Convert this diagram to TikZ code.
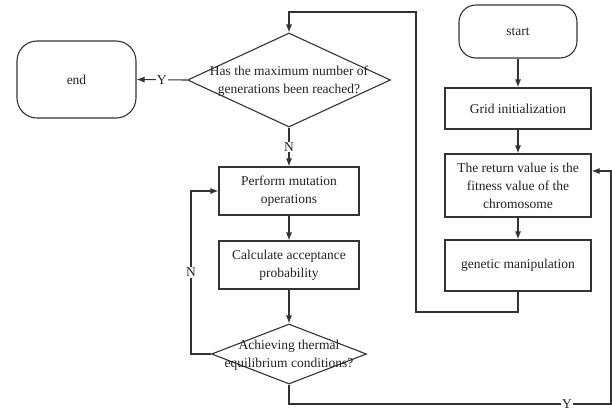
\documentclass[tikz,border=0pt]{standalone}
\usepackage{fontspec}
\setmainfont{Liberation Serif}
\usetikzlibrary{shapes.geometric,arrows.meta}
\newcommand\figfont{\fontsize{13.5}{18}\selectfont}
\definecolor{lc}{HTML}{333333}
\definecolor{tc}{HTML}{222222}
\begin{document}
\begin{tikzpicture}[x=1pt,y=-1pt,
  line/.style={draw=lc, line width=1.1pt},
  arr/.style={line, -{Latex[length=8pt,width=6pt]}},
  box/.style={draw=lc, line width=1.1pt, rectangle, inner sep=1pt, align=center, font=\figfont, text=tc},
  term/.style={draw=lc, line width=1.1pt, rectangle, inner sep=0pt, font=\figfont, text=tc},
  dia/.style={draw=lc, line width=1.1pt, diamond, inner sep=0pt},
  dtext/.style={align=center, font=\figfont, text=tc, inner sep=0pt},
  lab/.style={fill=white, inner sep=1pt, font=\figfont, text=tc},
]
\useasboundingbox (0,0) rectangle (612,410);

% terminals
\node[term, rounded corners=20pt, minimum width=119pt, minimum height=77pt] (end) at (76.5,79.5) {end};
\node[term, rounded corners=17pt, minimum width=118pt, minimum height=53pt] (start) at (518,31.5) {start};

% right column
\node[box, minimum width=146pt, minimum height=41pt] (grid) at (518,108.5) {Grid initialization};
\node[box, minimum width=146pt, minimum height=63pt] (ret) at (518,185.5) {The return value is the\\fitness value of the\\chromosome};
\node[box, minimum width=146pt, minimum height=51pt] (gm) at (518,265.5) {genetic manipulation};

% decision 1
\node[dia, minimum width=203pt, minimum height=94pt] (d1) at (289,80) {};
\node[dtext] (d1t) at (289,81) {Has the maximum number of\\generations been reached?};

% middle column
\node[box, minimum width=140pt, minimum height=48pt] (mut) at (289,191) {Perform mutation\\operations};
\node[box, minimum width=140pt, minimum height=48pt] (acc) at (289,265) {Calculate acceptance\\probability};

% decision 2
\node[dia, minimum width=155pt, minimum height=60pt] (d2) at (289,354) {};
\node[dtext] (d2t) at (289,355) {Achieving thermal\\equilibrium conditions?};

% helper coordinates
\coordinate (c1) at (518,312);
\coordinate (c2) at (416,312);
\coordinate (c3) at (416,12);
\coordinate (c4) at (289,12);
\coordinate (n1) at (191,354);
\coordinate (n2) at (191,191);
\coordinate (b1) at (289,404);
\coordinate (b2) at (611,404);
\coordinate (b3) at (611,171);

% connectors
\draw[arr] (start) -- (grid);
\draw[arr] (grid) -- (ret);
\draw[arr] (ret) -- (gm);
\draw[arr] (gm.south) -- (c1) -- (c2) -- (c3) -- (c4) -- (d1.north);
\draw[arr] (d1.west) -- node[lab] {Y} (end.east);
\draw[arr] (d1.south) -- node[lab] {N} (mut.north);
\draw[arr] (mut) -- (acc);
\draw[arr] (acc) -- (d2.north);
\draw[arr] (d2.west) -- (n1) -- node[lab] {N} (n2) -- (mut.west);
\draw[arr] (d2.south) -- (b1) -- node[lab, pos=0.863] {Y} (b2) -- (b3) -- (ret.east |- b3);
\end{tikzpicture}
\end{document}
